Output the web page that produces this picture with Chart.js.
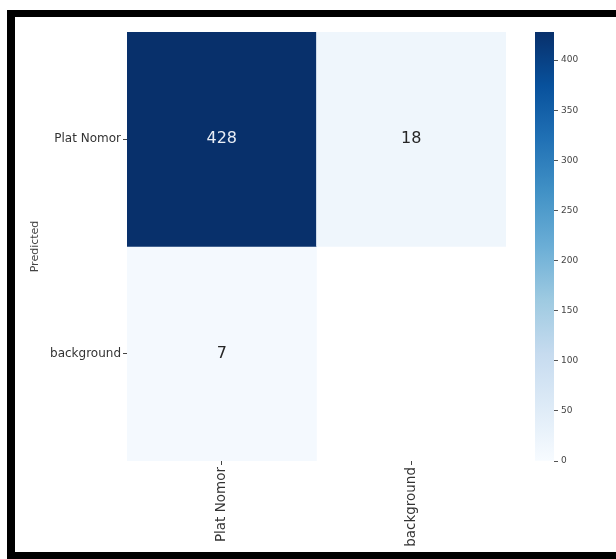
<!DOCTYPE html>
<html>
<head>
<meta charset="utf-8">
<script src="https://cdn.jsdelivr.net/npm/chart.js@4.4.0/dist/chart.umd.min.js"></script>
<style>
  html, body { margin: 0; padding: 0; background: #fff; }
  #wrap { position: relative; width: 616px; height: 559px; overflow: hidden; }
  #matrix { position: absolute; left: 0; top: 0; }
  #cbar { position: absolute; left: 500px; top: 0; }
  #frame {
    position: absolute; left: 7px; top: 10px; width: 700px; height: 535px;
    border: 7px solid #000; border-left-width: 8px; pointer-events: none;
  }
</style>
</head>
<body>
<div id="wrap">
  <canvas id="matrix" width="616" height="559"></canvas>
  <canvas id="cbar" width="116" height="559"></canvas>
  <div id="frame"></div>
</div>
<script>
(function() {
  "use strict";

  // rows = predicted, columns = true class
  const predictedLabels = ['Plat Nomor', 'background'];
  const trueLabels = ['Plat Nomor', 'background'];
  const rowPlatNomor = [428, 18];
  const rowBackground = [7, null];   // empty cell (value dropped)
  const counts = [rowPlatNomor, rowBackground];
  const colorbarTicks = [0, 50, 100, 150, 200, 250, 300, 350, 400];

  const FONT = 'DejaVu Sans';
  const vmax = Math.max(...counts.flat().filter(v => v !== null));

  // matplotlib "Blues"
  const blues = ['#f7fbff', '#deebf7', '#c6dbef', '#9ecae1', '#6baed6',
                 '#4292c6', '#2171b5', '#08519c', '#08306b'];

  function hexToRgb(h) {
    return [parseInt(h.substr(1, 2), 16), parseInt(h.substr(3, 2), 16), parseInt(h.substr(5, 2), 16)];
  }

  function bluesAt(t) {
    t = Math.max(0, Math.min(1, t));
    let pos = t * (blues.length - 1);
    let i = Math.min(Math.floor(pos), blues.length - 2);
    let f = pos - i;
    let a = hexToRgb(blues[i]), b = hexToRgb(blues[i + 1]);
    let c = a.map((v, k) => Math.round(v + (b[k] - v) * f));
    return 'rgb(' + c.join(',') + ')';
  }

  const datasets = counts.map(function(row, r) {
    return {
      label: predictedLabels[r],
      data: row.map(v => v === null ? null : [r, r + 1]),
      values: row,
      backgroundColor: row.map(v => v === null ? 'rgba(0,0,0,0)' : bluesAt(v / vmax)),
      borderWidth: 0,
      barPercentage: 1,
      categoryPercentage: 1,
      grouped: false
    };
  });

  const annotate = {
    id: 'annotate',
    afterDatasetsDraw(chart) {
      const ctx = chart.ctx;
      ctx.save();
      ctx.font = '16px "' + FONT + '"';
      ctx.textAlign = 'center';
      ctx.textBaseline = 'middle';
      chart.data.datasets.forEach(function(ds, r) {
        const meta = chart.getDatasetMeta(r);
        ds.values.forEach(function(v, c) {
          if (v === null) return;
          const el = meta.data[c];
          const cy = (el.y + el.base) / 2;
          ctx.fillStyle = v / vmax > 0.5 ? '#e8edf5' : '#262626';
          ctx.fillText(String(v), el.x, cy);
        });
      });
      ctx.restore();
    }
  };

  new Chart(document.getElementById('matrix'), {
    type: 'bar',
    data: { labels: trueLabels, datasets: datasets },
    plugins: [annotate],
    options: {
      responsive: false,
      animation: false,
      layout: { padding: { left: 25, top: 32, right: 110, bottom: 0 } },
      plugins: { legend: { display: false }, tooltip: { enabled: false } },
      scales: {
        x: {
          type: 'category',
          offset: true,
          grid: { display: true, drawOnChartArea: false, offset: false, tickLength: 4, color: '#444' },
          border: { display: false },
          ticks: {
            autoSkip: false, minRotation: 90, maxRotation: 90, padding: 2,
            color: '#333', font: { family: FONT, size: 13.5 }
          },
          afterFit: function(scale) { scale.height = 98; }
        },
        y: {
          type: 'linear',
          min: 0,
          max: predictedLabels.length,
          reverse: true,
          grid: { display: true, drawOnChartArea: false, tickLength: 4, color: '#444' },
          border: { display: false },
          ticks: {
            padding: 2, color: '#333', font: { family: FONT, size: 12 },
            callback: function(v, i) { return predictedLabels[i]; }
          },
          afterBuildTicks: function(scale) {
            scale.ticks = predictedLabels.map((_, i) => ({ value: i + 0.5 }));
          },
          afterFit: function(scale) { scale.width = 102; },
          title: {
            display: true, text: 'Predicted', color: '#444',
            font: { family: FONT, size: 11 }
          }
        }
      }
    }
  });

  // colorbar
  new Chart(document.getElementById('cbar'), {
    type: 'bar',
    data: {
      labels: [''],
      datasets: [{
        data: [[0, vmax]],
        borderWidth: 0,
        barPercentage: 1,
        categoryPercentage: 1,
        backgroundColor: function(context) {
          const area = context.chart.chartArea;
          if (!area) return blues[8];
          const g = context.chart.ctx.createLinearGradient(0, area.bottom, 0, area.top);
          blues.forEach((c, i) => g.addColorStop(i / (blues.length - 1), c));
          return g;
        }
      }]
    },
    options: {
      responsive: false,
      animation: false,
      layout: { padding: { left: 35, top: 32, right: 0, bottom: 98 } },
      plugins: { legend: { display: false }, tooltip: { enabled: false } },
      scales: {
        x: { display: false },
        y: {
          position: 'right',
          min: 0,
          max: vmax,
          grid: { display: true, drawOnChartArea: false, tickLength: 4, color: '#555' },
          border: { display: false },
          ticks: { padding: 3, color: '#444', font: { family: FONT, size: 9 } },
          afterBuildTicks: function(scale) {
            scale.ticks = colorbarTicks.map(v => ({ value: v }));
          },
          afterFit: function(scale) { scale.width = 62; }
        }
      }
    }
  });
})();
</script>
</body>
</html>
